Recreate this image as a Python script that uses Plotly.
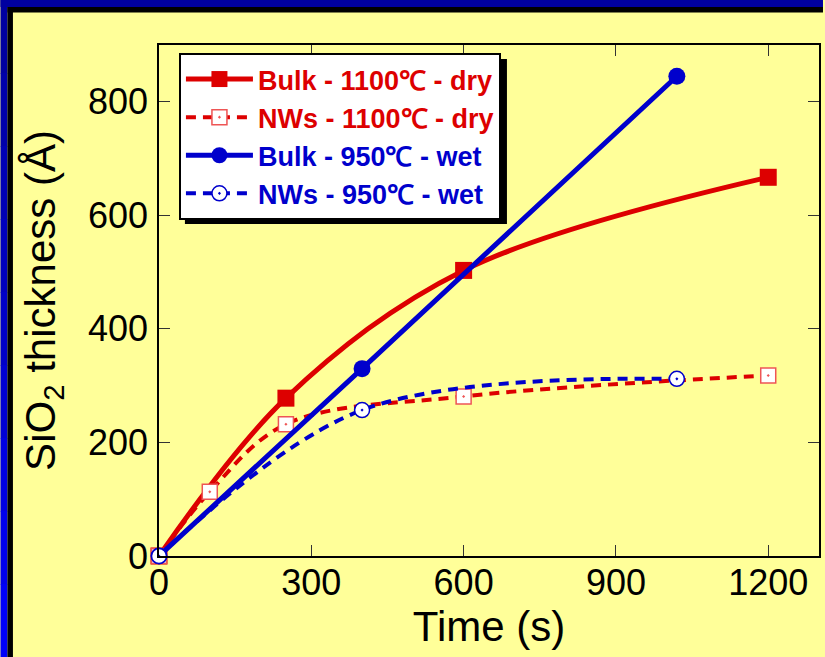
import plotly.graph_objects as go

# ---- data ----
bulk_dry_t = [0, 250, 600, 1200]
bulk_dry_th = [0, 278, 503, 667]
nws_dry_t = [0, 100, 250, 600, 1200]
nws_dry_th = [0, 113, 232, 281, 318]
bulk_wet_t = [0, 400, 1020]
bulk_wet_th = [0, 330, 845]
nws_wet_t = [0, 400, 1020]
nws_wet_th = [0, 257, 312]

names = ["Bulk - 1100℃ - dry", "NWs - 1100℃ - dry", "Bulk - 950℃ - wet", "NWs - 950℃ - wet"]
x_ticks = [0, 300, 600, 900, 1200]
y_ticks = [0, 200, 400, 600, 800]

RED = "#DD0000"
BLUE = "#0000CC"
YEL = "#FFFF99"
FONT = "Liberation Sans, Arial, sans-serif"

W, H = 825, 657
ML, MR, MT, MB = 159, 4, 45, 101
PW = W - ML - MR
PH = H - MT - MB


def px(x):
    return (x - ML) / PW


def py(y):
    return (H - MB - y) / PH


fig = go.Figure()
fig.add_trace(go.Scatter(x=bulk_dry_t, y=bulk_dry_th, name=names[0], mode="lines+markers",
                         line=dict(color=RED, width=5, shape="spline", smoothing=1.0),
                         marker=dict(symbol="square", size=17, color=RED), cliponaxis=False))
fig.add_trace(go.Scatter(x=nws_dry_t, y=nws_dry_th, name=names[1], mode="lines+markers",
                         line=dict(color=RED, width=4, dash="10px,7px", shape="spline", smoothing=1.0),
                         marker=dict(symbol="square-dot", size=15, color="white",
                                     line=dict(color="#EE5555", width=1.5)), cliponaxis=False))
fig.add_trace(go.Scatter(x=bulk_wet_t, y=bulk_wet_th, name=names[2], mode="lines+markers",
                         line=dict(color=BLUE, width=5),
                         marker=dict(symbol="circle", size=17, color=BLUE), cliponaxis=False))
fig.add_trace(go.Scatter(x=nws_wet_t, y=nws_wet_th, name=names[3], mode="lines+markers",
                         line=dict(color=BLUE, width=4, dash="10px,7px", shape="spline", smoothing=1.0),
                         marker=dict(symbol="circle-dot", size=15, color="white",
                                     line=dict(color=BLUE, width=1.5)), cliponaxis=False))

shapes = []
# legend shadow
shapes.append(dict(type="rect", xref="paper", yref="paper", x0=px(185), x1=px(508), y0=py(224), y1=py(59),
                   fillcolor="black", line=dict(width=0), layer="above"))
# frame: blue outer, black inner (top and left)
blues = ["#0000A0", "#0000AA", "#0000B4", "#0000BE", "#0000C8", "#0000D4", "#0000E0", "#0000EC", "#0000F8"]
shapes.append(dict(type="rect", xref="paper", yref="paper", x0=px(0), x1=px(W), y0=py(7), y1=py(0),
                   fillcolor="#0000A0", line=dict(width=0), layer="above"))
seg = H / len(blues)
for i, c in enumerate(blues):
    shapes.append(dict(type="rect", xref="paper", yref="paper", x0=px(0), x1=px(7),
                       y0=py(seg * (i + 1) + 0.5), y1=py(seg * i),
                       fillcolor=c, line=dict(width=0), layer="above"))
shapes.append(dict(type="rect", xref="paper", yref="paper", x0=px(7), x1=px(W), y0=py(12.5), y1=py(7),
                   fillcolor="black", line=dict(width=0), layer="above"))
shapes.append(dict(type="rect", xref="paper", yref="paper", x0=px(7), x1=px(12.5), y0=py(H), y1=py(7),
                   fillcolor="black", line=dict(width=0), layer="above"))

axis_common = dict(showgrid=False, zeroline=False, showline=True, linecolor="black", linewidth=1.5,
                   mirror="ticks", ticks="inside", ticklen=11, tickwidth=1.2, tickcolor="#333333",
                   tickfont=dict(family=FONT, size=36, color="black"))

fig.update_layout(
    width=W, height=H,
    margin=dict(l=ML, r=MR, t=MT, b=MB),
    paper_bgcolor=YEL, plot_bgcolor=YEL,
    font=dict(family=FONT, color="black"),
    xaxis=dict(range=[0, 1300], tickvals=x_ticks, ticklabelstandoff=-6,
               title=dict(text="Time (s)", font=dict(family=FONT, size=42), standoff=0),
               **axis_common),
    yaxis=dict(range=[0, 900], tickvals=y_ticks, ticklabelstandoff=2,
               title=dict(text="SiO<sub>2</sub> thickness (Å)", font=dict(family=FONT, size=42), standoff=19),
               **axis_common),
    legend=dict(x=px(179), y=py(53), xanchor="left", yanchor="top",
                bgcolor="white", bordercolor="black", borderwidth=2,
                font=dict(family=FONT, size=27, color="black", weight="bold"),
                itemwidth=67, tracegroupgap=0),
    showlegend=True,
    shapes=shapes,
)

for tr, col in zip(fig.data, [RED, RED, BLUE, BLUE]):
    tr.name = f"<span style='color:{col}'>{tr.name}</span>"

fig.write_html("out.html")
